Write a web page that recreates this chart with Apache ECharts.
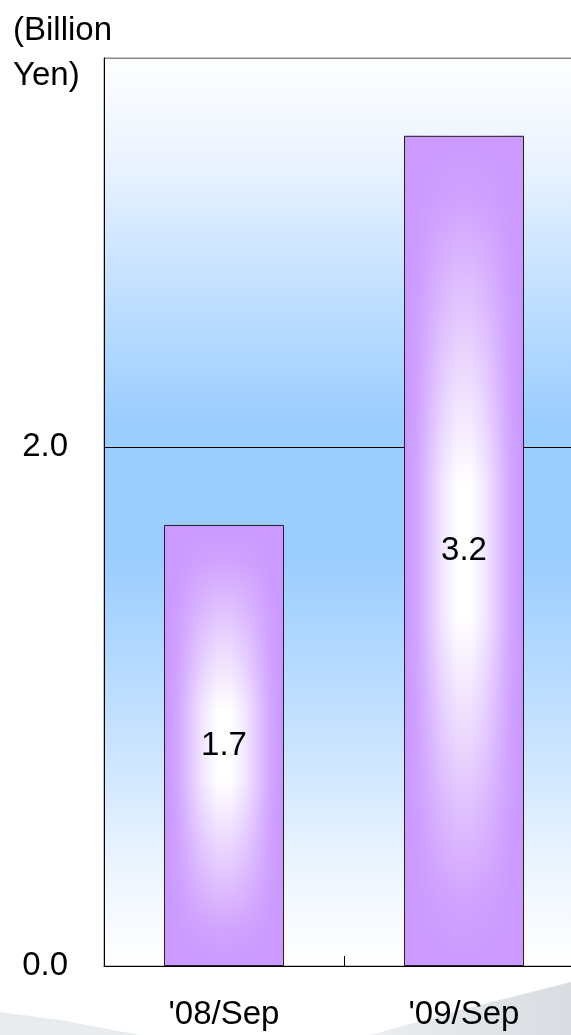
<!DOCTYPE html>
<html>
<head>
<meta charset="utf-8">
<script src="https://cdn.jsdelivr.net/npm/echarts@6/dist/echarts.min.js"></script>
<style>
html,body{margin:0;padding:0;background:#fff;}
#chart{width:571px;height:1035px;}
</style>
</head>
<body>
<div id="chart"></div>
<script>
const categories = ["'08/Sep", "'09/Sep"];
const values = [1.7, 3.2];
const yAxisName = "(Billion\nYen)";
const yMin = 0, yMax = 3.5, yInterval = 2;

const chart = echarts.init(document.getElementById('chart'), null, {renderer: 'canvas'});
const FONT = '"Liberation Sans", Arial, sans-serif';
const FS = 33;

const option = {
  animation: false,
  title: {
    text: yAxisName,
    left: 8, top: 3,
    textStyle: {fontFamily: FONT, fontSize: FS, fontWeight: 'normal', color: '#000', lineHeight: 45}
  },
  graphic: [
    {type: 'polygon', z: -10, shape: {points: [[0,1012],[60,1020],[140,1035],[0,1035]]},
     style: {fill: '#e9ecef'}},
    {type: 'polygon', z: -10, shape: {points: [[370,1035],[460,1010],[571,982],[571,1035]]},
     style: {fill: new echarts.graphic.LinearGradient(0,0,1,0,[{offset:0,color:'#eceef0'},{offset:1,color:'#d8dde2'}])}}
  ],
  grid: {
    left: 104, top: 58, bottom: 69, right: -13,
    outerBoundsMode: 'none',
    containLabel: false,
    show: true,
    borderColor: '#888', borderWidth: 1,
    backgroundColor: new echarts.graphic.LinearGradient(0, 0, 0, 1, [
      {offset: 0, color: '#fdfeff'},
      {offset: 0.1, color: '#eef5ff'},
      {offset: 0.25, color: '#c4e1ff'},
      {offset: 0.4, color: '#9bcdff'},
      {offset: 0.55, color: '#9bcdff'},
      {offset: 0.75, color: '#c8e3ff'},
      {offset: 0.9, color: '#eef6ff'},
      {offset: 1, color: '#ffffff'}
    ])
  },
  xAxis: {
    type: 'category',
    data: categories,
    axisLine: {show: true, lineStyle: {color: '#000', width: 1}},
    axisTick: {show: true, inside: true, length: 10, lineStyle: {color: '#000'}},
    axisLabel: {fontFamily: FONT, fontSize: FS, color: '#000', margin: 32}
  },
  yAxis: {
    type: 'value',
    min: yMin, max: yMax, interval: yInterval,
    axisLine: {show: true, lineStyle: {color: '#000', width: 1}},
    axisTick: {show: false},
    axisLabel: {fontFamily: FONT, fontSize: FS, color: '#000', margin: 36, showMaxLabel: false,
      formatter: v => v.toFixed(1)},
    splitLine: {show: true, lineStyle: {color: ['#000', '#000', '#888'], width: 1}}
  },
  series: [
    {
      type: 'bar',
      data: values,
      barWidth: 120,
      itemStyle: {
        color: new echarts.graphic.LinearGradient(0, 0, 1, 0, [
          {offset: 0, color: '#c894ff'},
          {offset: 0.12, color: '#d2a8ff'},
          {offset: 0.32, color: '#f2e6ff'},
          {offset: 0.45, color: '#ffffff'},
          {offset: 0.55, color: '#ffffff'},
          {offset: 0.68, color: '#f2e6ff'},
          {offset: 0.88, color: '#d2a8ff'},
          {offset: 1, color: '#c894ff'}
        ])
      },
      silent: true
    },
    {
      type: 'bar',
      data: values,
      barWidth: 120,
      barGap: '-100%',
      itemStyle: {
        borderColor: '#222', borderWidth: 1,
        color: new echarts.graphic.LinearGradient(0, 0, 0, 1, [
          {offset: 0, color: 'rgba(204,153,255,1)'},
          {offset: 0.08, color: 'rgba(204,153,255,0.9)'},
          {offset: 0.25, color: 'rgba(204,153,255,0.45)'},
          {offset: 0.42, color: 'rgba(204,153,255,0)'},
          {offset: 0.58, color: 'rgba(204,153,255,0)'},
          {offset: 0.75, color: 'rgba(204,153,255,0.45)'},
          {offset: 0.92, color: 'rgba(204,153,255,0.9)'},
          {offset: 1, color: 'rgba(204,153,255,1)'}
        ])
      },
      label: {
        show: true, position: 'inside',
        fontFamily: FONT, fontSize: FS, color: '#000',
        formatter: p => p.value.toFixed(1)
      }
    }
  ]
};
chart.setOption(option);
</script>
</body>
</html>
